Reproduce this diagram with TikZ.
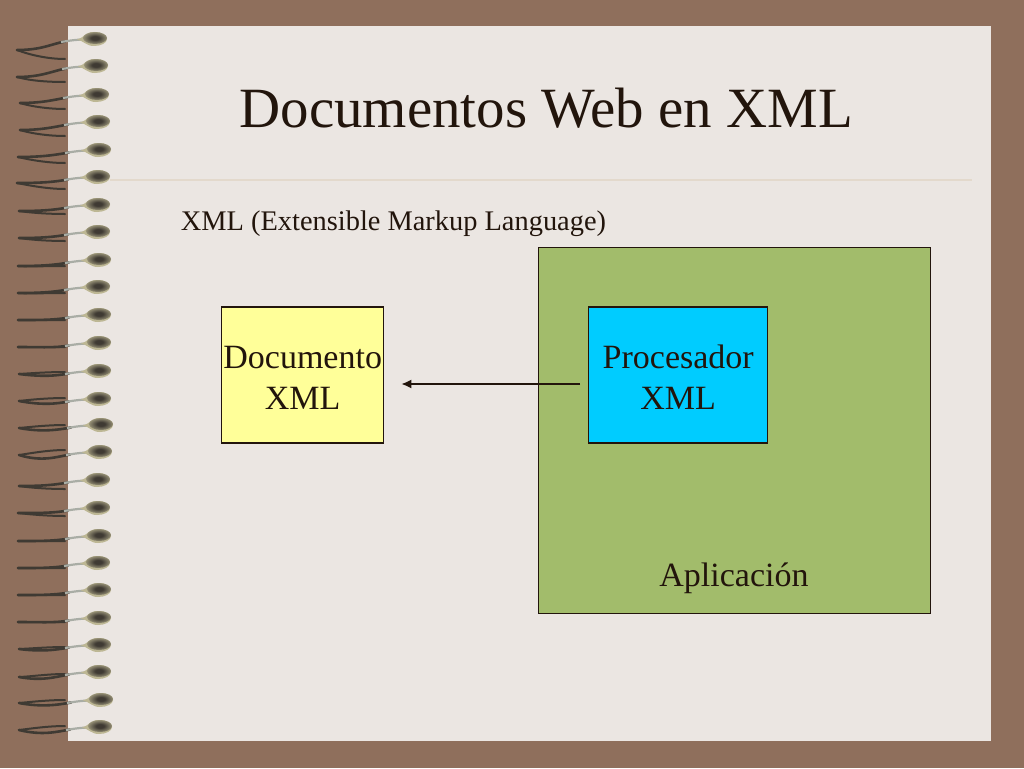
\documentclass[tikz,border=0pt]{standalone}
\usepackage{fontspec}
\setmainfont{Liberation Serif}
\definecolor{fondo}{HTML}{8F6F5C}
\definecolor{hoja}{HTML}{EBE6E2}
\definecolor{raya}{HTML}{E3D9CC}
\definecolor{tinta}{HTML}{22150C}
\definecolor{verde}{HTML}{A2BC6B}
\definecolor{amarillo}{HTML}{FFFF99}
\definecolor{celeste}{HTML}{00CCFF}
\definecolor{alambre}{HTML}{3F3A33}
\definecolor{brillo}{HTML}{A9ADA5}
\definecolor{oliva}{HTML}{BDB794}
\usetikzlibrary{arrows.meta}
\pgfdeclareradialshading{nucleosombra}{\pgfpoint{0bp}{0bp}}{color(0bp)=(alambre); color(8bp)=(alambre); color(33bp)=(oliva); color(50bp)=(oliva)}
\newcommand{\primera}{\rule{0pt}{28pt}}
\tikzset{
  caja/.style={draw=tinta, line width=1.2pt, inner sep=0pt, align=center, text=tinta, font=\fontsize{34}{41}\selectfont},
  texto/.style={inner sep=0pt, text=tinta},
  flecha/.style={-{Latex[length=10pt,width=9pt]}, draw=tinta, line width=1.7pt},
  bola/.style={fill=oliva, draw=none},
  nucleo/.style={shading=nucleosombra, draw=none},
}
\begin{document}
\begin{tikzpicture}[x=1pt,y=-1pt]
\useasboundingbox (0,0) rectangle (1024,768);
\fill[fondo] (0,0) rectangle (1024,768);
\fill[hoja] (68,26) rectangle (991,741);
\fill[raya] (110,179.3) rectangle (972,180.7);
\foreach \y/\b/\t/\e/\x in {39/93/11/20/17,66/94/11/16/17,95/95/8/14/20,122/96/8/14/20,150/97/7/13/18,177/96/6/12/17,205/96/6/9/19,232/96/6/9/19,260/97/6/6/18,287/96/6/6/18,315/97/5/5/18,343/97/4/4/18,371/97/3/1/19,399/97/2/-1/19,425/99/3/0/19,452/98/3/-2/19,480/96/6/9/19,508/96/5/8/18,536/97/5/5/18,563/96/5/5/18,590/97/5/5/18,618/97/4/4/18,645/97/4/2/19,672/97/5/2/19,700/99/3/0/19,727/98/3/-1/19}{
  \pgfmathsetmacro{\s}{\t<\e ? 0 : 1.4*(\t-\e)}
  \draw[alambre, line width=2pt, line cap=round] (\x,\y+\t) .. controls (30,\y+\t-1+0.3*\e) and (48,\y+\e) .. (65,\y+\e);
  \draw[alambre, line width=2.6pt, line cap=round] (\b-28,\y+2.5) .. controls (\b-42,\y+5) and (42,\y+\t+\s) .. (\x,\y+\t);
  \draw[brillo, line width=2.2pt] (\b-32,\y+3) .. controls (\b-26,\y+2) and (\b-20,\y+1) .. (\b-11,\y+0.5);
  \fill[bola] (\b-16,\y+0.5) .. controls (\b-9,\y-1) and (\b-8,\y-7) .. (\b+1,\y-7) .. controls (\b+10,\y-7) and (\b+14,\y-3) .. (\b+14,\y) .. controls (\b+14,\y+4) and (\b+8,\y+7) .. (\b+1,\y+7) .. controls (\b-7,\y+7) and (\b-9,\y+2) .. (\b-16,\y+0.5) -- cycle;
  \shade[nucleo] (\b+2,\y-1) ellipse (12pt and 6pt);
}
\node[texto, font=\fontsize{56.9}{60}\selectfont] (titulo) at (546.2,108) {Documentos Web en XML};
\node[texto, font=\fontsize{28.4}{30}\selectfont] (subtitulo) at (393.5,224) {XML (Extensible Markup Language)};
\node[caja, fill=verde, minimum width=392pt, minimum height=366pt] (aplicacion) at (734.3,430.5) {};
\node[texto, font=\fontsize{34}{41}\selectfont] (etiqueta) at (734,578) {Aplicación};
\node[caja, fill=amarillo, minimum width=162pt, minimum height=136pt] (documento) at (302.7,375) {\primera Documento\\XML};
\node[caja, fill=celeste, minimum width=179pt, minimum height=136pt] (procesador) at (678.2,375) {\primera Procesador\\XML};
\draw[flecha, shorten <=8pt, shorten >=17pt] ([yshift=-9pt]procesador.west) -- ([yshift=-9pt]documento.east);
\end{tikzpicture}
\end{document}
